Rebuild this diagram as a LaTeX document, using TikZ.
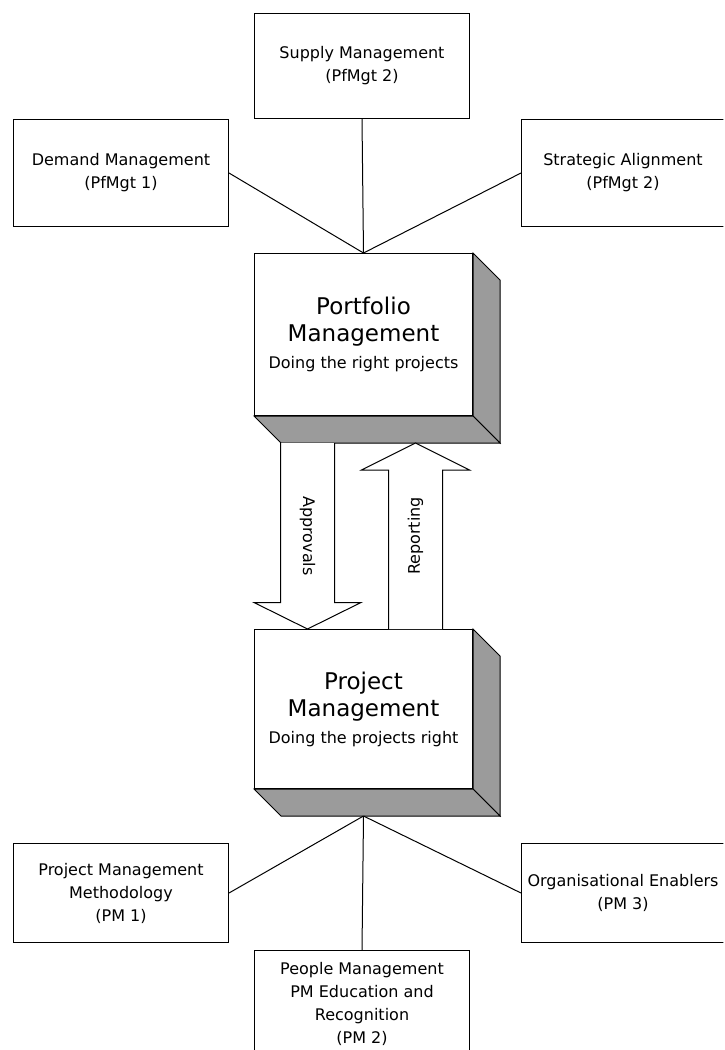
\documentclass[tikz,border=0pt]{standalone}
\usepackage{fontspec}
\setmainfont{DejaVu Sans}
\usetikzlibrary{calc}
\definecolor{sidegray}{RGB}{155,155,155}
\tikzset{
  smallbox/.style={draw, line width=1pt, align=center, inner sep=0pt, anchor=north west,
    font=\fontsize{16}{23}\selectfont},
  bigbox/.style={draw, fill=white, line width=1pt, align=center, inner sep=0pt, anchor=north west,
    minimum width=218pt, font=\fontsize{23}{27}\selectfont},
  side/.style={draw, fill=sidegray, line width=1pt},
  link/.style={line width=1pt},
  blockarrow/.style={draw, fill=white, line width=1pt},
}
\begin{document}
\begin{tikzpicture}[x=1pt, y=-1pt]
\def\dd{27}
\useasboundingbox (0,0) rectangle (724,1050);
\clip (0,0) rectangle (723.4,1049.4);
% portfolio side
\node[smallbox, minimum width=215pt, minimum height=105pt] (supply) at (254,13) {Supply Management\\(PfMgt 2)};
\node[smallbox, minimum width=215pt, minimum height=107pt] (demand) at (13,119) {Demand Management\\(PfMgt 1)};
\node[smallbox, minimum width=203pt, minimum height=107pt] (strat) at (521,119) {Strategic Alignment\\(PfMgt 2)};
\node[bigbox, minimum height=162pt] (pf) at (254,253)
  {Portfolio\\Management\\\fontsize{16}{24}\selectfont Doing the right projects};
\draw[side] (pf.north east) -- ++(\dd,\dd) -- ($(pf.south east)+(\dd,\dd)$) -- (pf.south east) -- cycle;
\draw[side] (pf.south west) -- (pf.south east) -- ++(\dd,\dd) -- ($(pf.south west)+(\dd,\dd)$) -- cycle;
\draw[link] (demand.east) -- (pf.north);
\draw[link] (supply.south) -- (pf.north);
\draw[link] (strat.west) -- (pf.north);
% project side
\node[bigbox, minimum height=159pt] (pm) at (254,629)
  {Project\\Management\\\fontsize{16}{24}\selectfont Doing the projects right};
\draw[side] (pm.north east) -- ++(\dd,\dd) -- ($(pm.south east)+(\dd,\dd)$) -- (pm.south east) -- cycle;
\draw[side] (pm.south west) -- (pm.south east) -- ++(\dd,\dd) -- ($(pm.south west)+(\dd,\dd)$) -- cycle;
\node[smallbox, minimum width=215pt, minimum height=99pt] (pmone) at (13,843) {Project Management\\Methodology\\(PM 1)};
\node[smallbox, minimum width=215pt, minimum height=106pt] (pmtwo) at (254,950) {People Management\\PM Education and\\Recognition\\(PM 2)};
\node[smallbox, minimum width=203pt, minimum height=99pt] (pmthree) at (521,843) {Organisational Enablers\\(PM 3)};
\coordinate (pmfoot) at ($(pm.south)+(0,\dd)$);
\draw[link] (pmfoot) -- (pmone.east);
\draw[link] (pmfoot) -- (pmtwo.north);
\draw[link] (pmfoot) -- (pmthree.west);
% the two big arrows
\coordinate (apptop) at ($(pf.south west)+(53.5,\dd)$);
\coordinate (apptip) at (apptop |- pm.north);
\draw[blockarrow] ($(apptop)+(-27,0)$) -- ($(apptip)+(-27,-26.5)$) -- ($(apptip)+(-53.5,-26.5)$) -- (apptip)
  -- ($(apptip)+(53.5,-26.5)$) -- ($(apptip)+(27,-26.5)$) -- ($(apptop)+(27,0)$);
\node[rotate=-90, font=\fontsize{16}{19}\selectfont] (appr) at ($(apptop)!0.5!(apptip)$) {Approvals};
\coordinate (reptip) at ($(pf.south west)+(161.5,\dd)$);
\coordinate (repfoot) at (reptip |- pm.north);
\draw[blockarrow] ($(repfoot)+(-27,0)$) -- ($(reptip)+(-27,27)$) -- ($(reptip)+(-54,27)$) -- (reptip)
  -- ($(reptip)+(54,27)$) -- ($(reptip)+(27,27)$) -- ($(repfoot)+(27,0)$);
\node[rotate=90, font=\fontsize{16}{19}\selectfont] (rep) at ($(reptip)!0.5!(repfoot)$) {Reporting};
\end{tikzpicture}
\end{document}
